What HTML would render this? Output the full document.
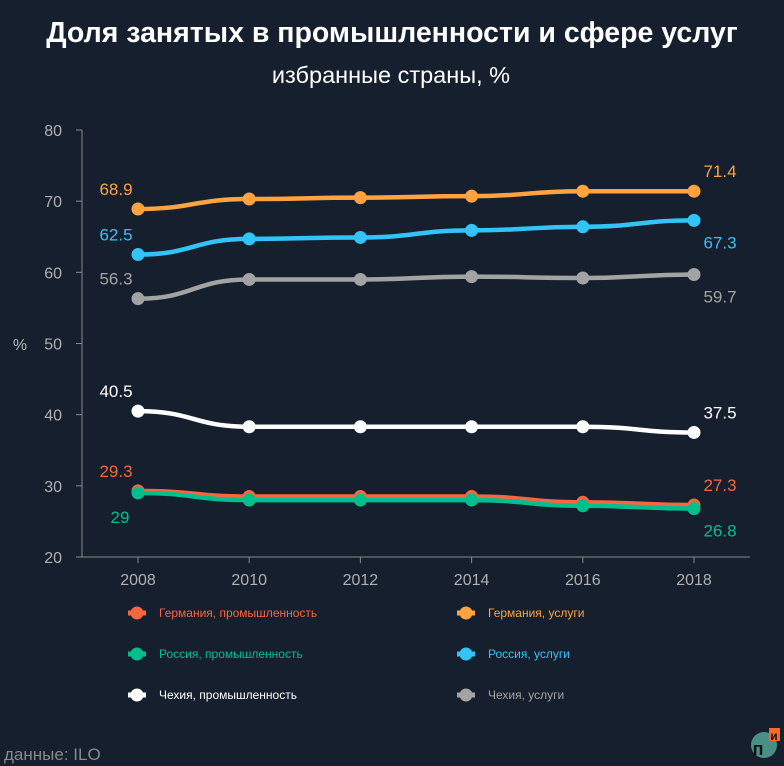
<!DOCTYPE html>
<html><head><meta charset="utf-8"><style>
body{margin:0;background:#161f2d;}
svg{display:block;font-family:"Liberation Sans",sans-serif;}
</style></head><body>
<svg id="c" width="784" height="766" viewBox="0 0 784 766">
<rect width="784" height="766" fill="#161f2d"/>
<text x="392" y="42" text-anchor="middle" fill="#fff" font-size="28.5" font-weight="bold">Доля занятых в промышленности и сфере услуг</text>
<text x="391" y="83" text-anchor="middle" fill="#fff" font-size="23.5">избранные страны, %</text>
<text x="20" y="350" text-anchor="middle" fill="#b8b8b8" font-size="16">%</text>
<g id="axes"></g><g id="series"></g><g id="legend"></g>
<text x="4" y="760" fill="#8a8a8a" font-size="17">данные: ILO</text>
<g>
<circle cx="764" cy="745" r="13" fill="#4a8f85"/>
<rect x="769" y="728" width="11" height="13" fill="#f26b2a"/>
<text x="758" y="755" fill="#111" font-size="18" font-weight="bold" text-anchor="middle">п</text>
<text x="774" y="740" fill="#111" font-size="12" font-weight="bold" text-anchor="middle">и</text>
</g>
</svg>
<script>
const years=[2008,2010,2012,2014,2016,2018];
const yTicks=[20,30,40,50,60,70,80];
const seriesNames=["Германия, промышленность","Германия, услуги","Россия, промышленность","Россия, услуги","Чехия, промышленность","Чехия, услуги"];
const deInd=[29.3,28.5,28.5,28.5,27.7,27.3];
const deSrv=[68.9,70.3,70.5,70.7,71.4,71.4];
const ruInd=[29,28,28,28,27.2,26.8];
const ruSrv=[62.5,64.7,64.9,65.9,66.4,67.3];
const czInd=[40.5,38.3,38.3,38.3,38.3,37.5];
const czSrv=[56.3,59.0,59.0,59.4,59.2,59.7];
const colors=["#f7663f","#ffa340","#00bf8c","#33c4f7","#ffffff","#a3a3a3"];
const allData=[deInd,deSrv,ruInd,ruSrv,czInd,czSrv];
const startBelow=[false,false,true,false,false,false];
const endBelow=[false,false,true,true,false,true];
const NS="http://www.w3.org/2000/svg";
const X=y=>138+(y-2008)*(694-138)/10;
const Y=v=>557-(v-20)*(557-130)/60;
function mk(t,a,p){const e=document.createElementNS(NS,t);for(const k in a)e.setAttribute(k,a[k]);p.appendChild(e);return e;}
const ax=document.getElementById('axes');
const yl=mk('line',{x1:82,x2:82,y1:130,y2:557,stroke:'#8a8a8a','stroke-width':1},ax);


const xl=mk('line',{x1:82,x2:750,y1:557,y2:557,stroke:'#8a8a8a','stroke-width':1},ax);


yTicks.forEach(t=>{
 mk('line',{x1:76,x2:82,y1:Y(t),y2:Y(t),stroke:'#8a8a8a'},ax);
 const tx=mk('text',{x:62,y:Y(t)+6,'text-anchor':'end',fill:'#b0b0b0','font-size':16},ax);tx.textContent=t;
 
 
});
years.forEach(y=>{
 mk('line',{x1:X(y),x2:X(y),y1:557,y2:563,stroke:'#8a8a8a'},ax);
 const tx=mk('text',{x:X(y),y:585,'text-anchor':'middle',fill:'#b0b0b0','font-size':16},ax);tx.textContent=y;
 
 
});
const sg=document.getElementById('series');
allData.forEach((d,i)=>{
 const g=mk('g',{},sg);
 
 
 let p='M'+X(years[0])+','+Y(d[0]);
 for(let k=1;k<d.length;k++){const x0=X(years[k-1]),x1=X(years[k]),m=(x0+x1)/2;p+=` C${m},${Y(d[k-1])} ${m},${Y(d[k])} ${x1},${Y(d[k])}`;}
 mk('path',{d:p,fill:'none',stroke:colors[i],'stroke-width':4.5},g);
 d.forEach((v,k)=>{const c=mk('circle',{cx:X(years[k]),cy:Y(v),r:6.5,fill:colors[i]},g);
  
  });
 const s=mk('text',{x:X(years[0])-(startBelow[i]?18:22),y:Y(d[0])+(startBelow[i]?30:-14),'text-anchor':'middle',fill:colors[i],'font-size':17},g);s.textContent=d[0];
 
 
 const e=mk('text',{x:X(years[5])+26,y:Y(d[5])+(endBelow[i]?28:-14),'text-anchor':'middle',fill:colors[i],'font-size':17},g);e.textContent=d[5];
 
 
});
const lg=document.getElementById('legend');
seriesNames.forEach((n,i)=>{
 const mx=i%2?466:137,ly=613+Math.floor(i/2)*41;
 const g=mk('g',{},lg);
 
 
 mk('line',{x1:mx-9,x2:mx+9,y1:ly,y2:ly,stroke:colors[i],'stroke-width':5},g);
 mk('circle',{cx:mx,cy:ly,r:6.5,fill:colors[i]},g);
 const t=mk('text',{x:mx+22,y:ly+4,fill:colors[i],'font-size':12},g);t.textContent=n;
});
</script>
</body></html>
